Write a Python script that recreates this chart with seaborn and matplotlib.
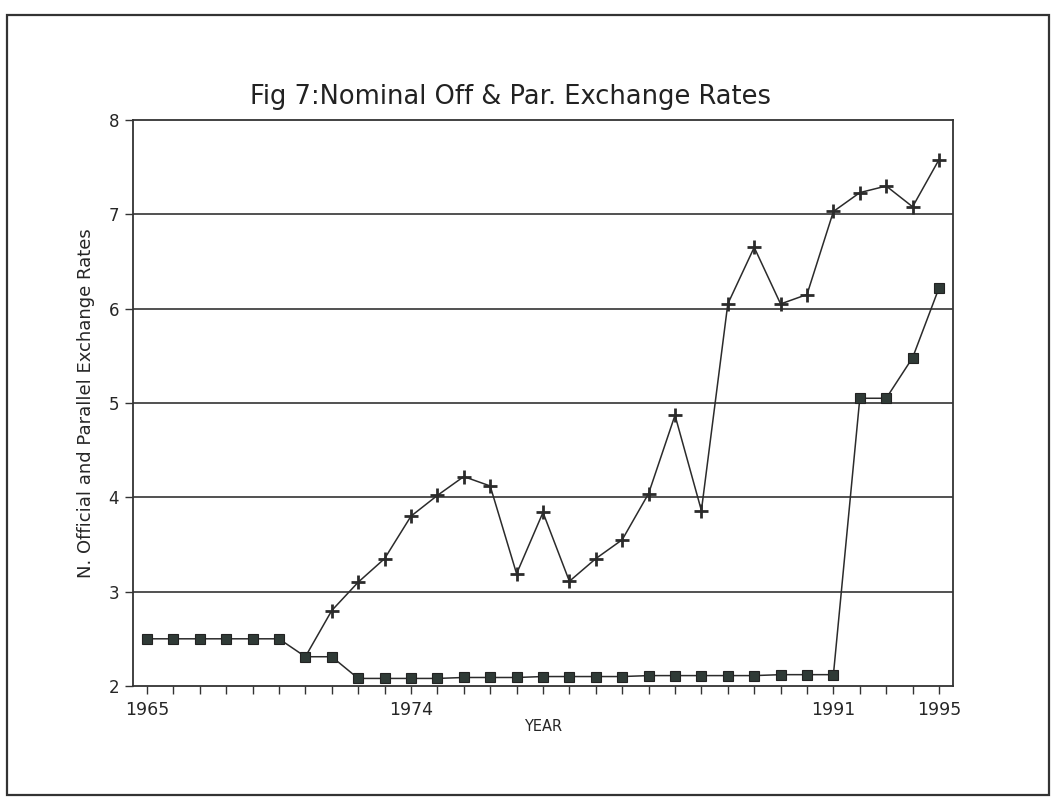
import numpy as np
import pandas as pd
import matplotlib.pyplot as plt
import seaborn as sb
from matplotlib.patches import Rectangle

# DATA
years = list(range(1965, 1996))
official = [2.50, 2.50, 2.50, 2.50, 2.50, 2.50, 2.31, 2.31, 2.08, 2.08,
            2.08, 2.08, 2.09, 2.09, 2.09, 2.10, 2.10, 2.10, 2.10, 2.11,
            2.11, 2.11, 2.11, 2.11, 2.12, 2.12, 2.12, 5.05, 5.05, 5.48, 6.22]
parallel = [np.nan] * 6 + [2.31, 2.80, 3.10, 3.35, 3.80, 4.02, 4.22, 4.12,
                           3.19, 3.84, 3.11, 3.35, 3.55, 4.04, 4.87, 3.86,
                           6.05, 6.65, 6.05, 6.15, 7.03, 7.23, 7.30, 7.08, 7.58]
xtick_labels = ["1965"] + [""] * 9 + ["1974"] + [""] * 15 + ["1991"] + [""] * 3 + ["1995"]
yticks = [2, 3, 4, 5, 6, 7, 8]

df = pd.DataFrame({'pos': range(len(years)), 'year': years,
                   'official': official, 'parallel': parallel})

sb.set_style("white")
plt.rcParams['font.family'] = ['DejaVu Sans']

fig = plt.figure(figsize=(10.52, 8.01), dpi=100)
ax = fig.add_axes([0.1264, 0.1436, 0.7795, 0.7066])

# parallel rate first; its first point sits under the official square, so no marker there
sb.lineplot(data=df, x='pos', y='parallel', ax=ax, color='#2b2b2b', linewidth=1.1,
            marker='+', markersize=10, markeredgewidth=2, markeredgecolor='#2b2b2b',
            markevery=slice(1, None))
sb.lineplot(data=df, x='pos', y='official', ax=ax, color='#2b2b2b', linewidth=1.1,
            marker='s', markersize=7.5, markerfacecolor='#2f3a36', markeredgecolor='#222222',
            markeredgewidth=0.8)

ax.set_xlim(-0.53, 30.53)
ax.set_ylim(2, 8)
ax.set_yticks(yticks)
ax.set_yticklabels([str(v) for v in yticks], fontsize=12)
ax.set_xticks(df['pos'])
ax.set_xticklabels(xtick_labels, fontsize=12.5)
ax.tick_params(axis='both', direction='out', length=6, width=1, color='#333333',
               bottom=True, left=True)
ax.tick_params(axis='x', pad=5)
ax.tick_params(axis='y', pad=4)

# horizontal grid lines
for v in yticks[1:-1]:
    ax.axhline(v, color='#333333', linewidth=1.2, zorder=0)

for s in ax.spines.values():
    s.set_color('#333333')
    s.set_linewidth(1.3)

ax.set_xlabel("YEAR", fontsize=10.5)
ax.xaxis.set_label_coords(0.5, -0.058)
ax.set_ylabel("N. Official and Parallel Exchange Rates", fontsize=13)
ax.yaxis.set_label_coords(-0.046, 0.5)

fig.text(0.485, 0.879, "Fig 7:Nominal Off & Par. Exchange Rates", fontsize=18.5,
         ha='center', va='center', color='#222222')

# outer frame round the whole figure
fig.add_artist(Rectangle((0.0067, 0.0075), 0.99, 0.974, transform=fig.transFigure,
                         fill=False, edgecolor='#333333', linewidth=1.6))

fig.savefig("out.png", dpi=100)
